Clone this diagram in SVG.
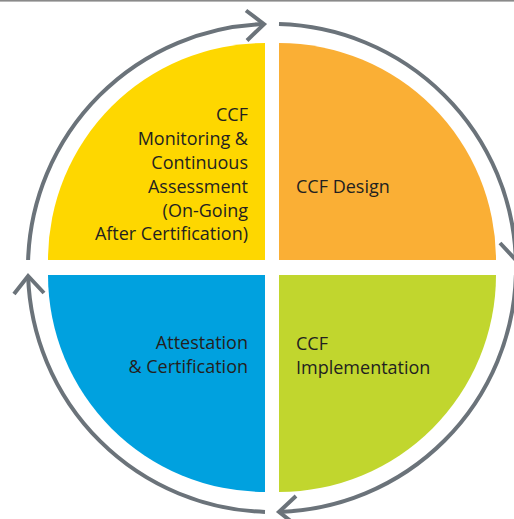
<svg xmlns="http://www.w3.org/2000/svg" width="514" height="519" viewBox="0 0 514 519">
<style>
.lbl{font-family:"Open Sans","Liberation Sans",sans-serif;font-size:18px;fill:#231f20}
.ring{fill:none;stroke:#6b737a;stroke-width:4}
</style>
<rect x="0" y="0" width="514" height="519" fill="#fff"/>
<rect x="0" y="0" width="514" height="1.6" fill="#8a8a8a"/>
<g id="monitoring">
<path d="M265,260 L48,260 A217,217 0 0 1 265,43 Z" fill="#FED700"/>
<text class="lbl" text-anchor="end"><tspan x="248" y="121">CCF</tspan><tspan x="248" y="145">Monitoring &amp;</tspan><tspan x="248" y="169">Continuous</tspan><tspan x="248" y="193">Assessment</tspan><tspan x="248" y="216.5">(On-Going</tspan><tspan x="248" y="240">After Certification)</tspan></text>
</g>
<g id="design">
<path d="M279,260 L279,43 A217,217 0 0 1 496,260 Z" fill="#FAAF35"/>
<text class="lbl" x="296" y="193">CCF Design</text>
</g>
<g id="implementation">
<path d="M279,275 L496,275 A217,217 0 0 1 279,492 Z" fill="#C1D62E"/>
<text class="lbl"><tspan x="296" y="349.5">CCF</tspan><tspan x="296" y="373.5">Implementation</tspan></text>
</g>
<g id="attestation">
<path d="M265,275 L265,492 A217,217 0 0 1 48,275 Z" fill="#00A1DF"/>
<text class="lbl" text-anchor="end"><tspan x="248" y="348.5">Attestation</tspan><tspan x="248" y="372.5">&amp; Certification</tspan></text>
</g>
<g id="connectors" class="ring">
<path d="M28.1,260 A244,244 0 0 1 264,24.1"/>
<polyline points="246,10.5 264,24.1 247,40.5"/>
<path d="M279,24.1 A244,244 0 0 1 515.9,260"/>
<polyline points="530,242 515.9,260 500,243"/>
<path d="M515.9,275 A244,244 0 0 1 279,511.9"/>
<polyline points="297,526 279,511.9 296,496"/>
<path d="M265,511.9 A244,244 0 0 1 28.1,276"/>
<polyline points="14,294 28.1,276 44,293"/>
</g>
</svg>
